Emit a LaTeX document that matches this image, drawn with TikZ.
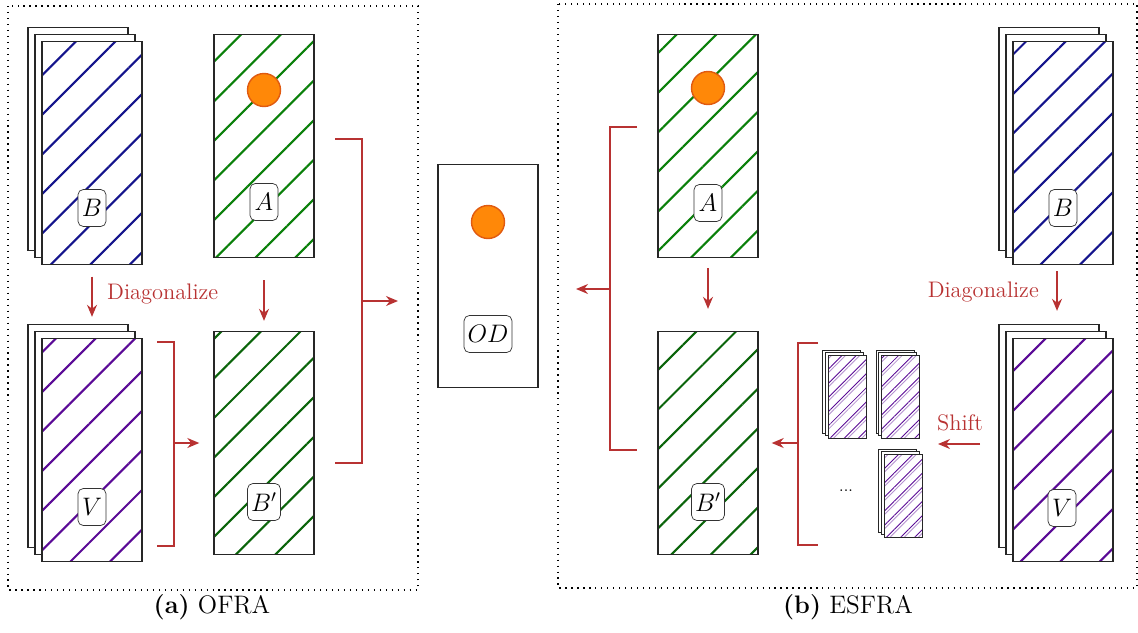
\documentclass[tikz,border=0pt]{standalone}
\usepackage{amsmath,amssymb}
\usepackage{xcolor}
\usepackage{tikz}
\usetikzlibrary{arrows.meta,positioning,calc,patterns.meta}
\definecolor{flowred}{HTML}{B83232}
\definecolor{hatchblue}{HTML}{14148C}
\definecolor{hatchgreen}{HTML}{0A800A}
\definecolor{hatchdkgreen}{HTML}{0A640A}
\definecolor{hatchviolet}{HTML}{5A0A96}
\definecolor{dotfill}{HTML}{FF8808}
\definecolor{dotline}{HTML}{E05A10}

\begin{document}
\begin{tikzpicture}[x=0.02cm,y=-0.02cm]
    \tikzset{
      sheet/.style={draw=black!85,fill=white,line width=0.8pt,minimum width=2cm,minimum height=4.46cm,inner sep=0pt},
      mat/.style={sheet,preaction={fill=white},pattern={Lines[angle=45,distance=0.56cm,line width=1.2pt]},pattern color=#1},
      mini/.style={draw=black!85,fill=white,line width=0.5pt,minimum width=0.76cm,minimum height=1.66cm,inner sep=0pt},
      minimat/.style={mini,preaction={fill=white},preaction={pattern={Lines[angle=45,distance=0.2cm,line width=0.5pt,xshift=0.07cm]},pattern color=hatchviolet!45},pattern={Lines[angle=45,distance=0.2cm,line width=0.5pt]},pattern color=hatchviolet},
      tag/.style={draw=black!80,fill=white,rounded corners=3pt,inner sep=2pt,minimum width=0.56cm,minimum height=0.74cm,font=\Large},
      dot/.style={circle,draw=dotline,fill=dotfill,line width=0.8pt,minimum size=0.66cm,inner sep=0pt},
      flow/.style={-{Stealth[length=2.4mm,width=2mm]},draw=flowred,line width=0.8pt},
      brace/.style={draw=flowred,line width=0.8pt},
      note/.style={text=flowred,font=\fontsize{12.8pt}{15pt}\selectfont},
      caption/.style={font=\Large},
      panel/.style={draw=black,line width=0.7pt,dash pattern=on 0.7pt off 2.7pt}
    }
    \useasboundingbox (0,0) rectangle (1138,632);
    % (a) OFRA
    \draw[panel] (8,6) rectangle (418,590);
    \node[sheet] (Bl3) at (78,139) {};
    \node[sheet] (Bl2) at (85,146) {};
    \node[mat=hatchblue] (Bl) at (92,153) {};
    \node[tag] (Bltag) at (92,208) {$B$};
    \node[mat=hatchgreen] (Al) at (264,146) {};
    \node[dot] (Aldot) at (264,90) {};
    \node[tag] (Altag) at (264,202) {$A$};
    \node[sheet] (Vl3) at (78,436) {};
    \node[sheet] (Vl2) at (85,443) {};
    \node[mat=hatchviolet] (Vl) at (92,450) {};
    \node[tag] (Vltag) at (92,507) {$V$};
    \node[mat=hatchdkgreen] (Bpl) at (264,443) {};
    \node[tag] (Bpltag) at (264,502) {$B'$};
    \draw[flow,shorten <=0.22cm,shorten >=0.42cm] (Bl.south) -- (Vl.north);
    \node[note,anchor=west] (diagl) at (101,294) {Diagonalize};
    \draw[flow,shorten <=0.44cm,shorten >=0.2cm] (Al.south) -- (Bpl.north);
    \draw[brace] (157,342) -- (174,342) -- (174,546) -- (157,546);
    \coordinate (bv) at (174,443);
    \draw[flow,shorten >=0.28cm] (bv) -- (Bpl.west);
    \draw[brace] (335,139) -- (362,139) -- (362,463) -- (335,463);
    \coordinate (bo) at (362,301);
    \coordinate (oin) at (398,301);
    \draw[flow] (bo) -- (oin);
    \node[caption] (capa) at (212,607) {\textbf{(a)} OFRA};
    % result
    \node[sheet] (OD) at (488,276) {};
    \node[dot] (ODdot) at (488,222) {};
    \node[tag] (ODtag) at (488,334) {$OD$};
    % (b) ESFRA
    \draw[panel] (558,4) rectangle (1137,588);
    \node[mat=hatchgreen] (Ar) at (708,146) {};
    \node[dot] (Ardot) at (708,88) {};
    \node[tag] (Artag) at (708,203) {$A$};
    \node[mat=hatchdkgreen] (Bpr) at (708,443) {};
    \node[tag] (Bprtag) at (708,502) {$B'$};
    \node[sheet] (Br3) at (1049,139) {};
    \node[sheet] (Br2) at (1056,146) {};
    \node[mat=hatchblue] (Br) at (1063,153) {};
    \node[tag] (Brtag) at (1063,208) {$B$};
    \node[sheet] (Vr3) at (1049,436) {};
    \node[sheet] (Vr2) at (1056,443) {};
    \node[mat=hatchviolet] (Vr) at (1063,450) {};
    \node[tag] (Vrtag) at (1062,508) {$V$};
    \draw[flow,shorten <=0.2cm,shorten >=0.44cm] (Ar.south) -- (Bpr.north);
    \draw[brace] (637,127) -- (610,127) -- (610,450) -- (637,450);
    \coordinate (bl) at (610,289);
    \coordinate (lout) at (576,289);
    \draw[flow] (bl) -- (lout);
    \draw[flow,shorten <=0.12cm,shorten >=0.26cm] ([xshift=-0.12cm]Br.south) -- ([xshift=-0.12cm]Br.south |- Vr3.north);
    \node[note,anchor=east] (diagr) at (1045,292) {Diagonalize};
    % shifted copies
    \node[mini] (s13) at (841.6,391.6) {};
    \node[mini] (s12) at (844.3,394.3) {};
    \node[minimat] (s1) at (847,397) {};
    \node[mini] (s23) at (895.1,391.6) {};
    \node[mini] (s22) at (897.8,394.3) {};
    \node[minimat] (s2) at (900.5,397) {};
    \node[mini] (s33) at (897.6,490.6) {};
    \node[mini] (s32) at (900.3,493.3) {};
    \node[minimat] (s3) at (903,496) {};
    \node[font=\small] (dots) at (846,491) {...};
    \coordinate (vin) at (980,444);
    \coordinate (sin) at (938,444);
    \draw[flow] (vin) -- (sin);
    \node[note] (shift) at (960,423) {Shift};
    \draw[brace] (818,343) -- (798,343) -- (798,545) -- (818,545);
    \coordinate (bs) at (798,443);
    \draw[flow,shorten >=0.26cm] (bs) -- (Bpr.east);
    \node[caption] (capb) at (848,607) {\textbf{(b)} ESFRA};
  \end{tikzpicture}
\end{document}
